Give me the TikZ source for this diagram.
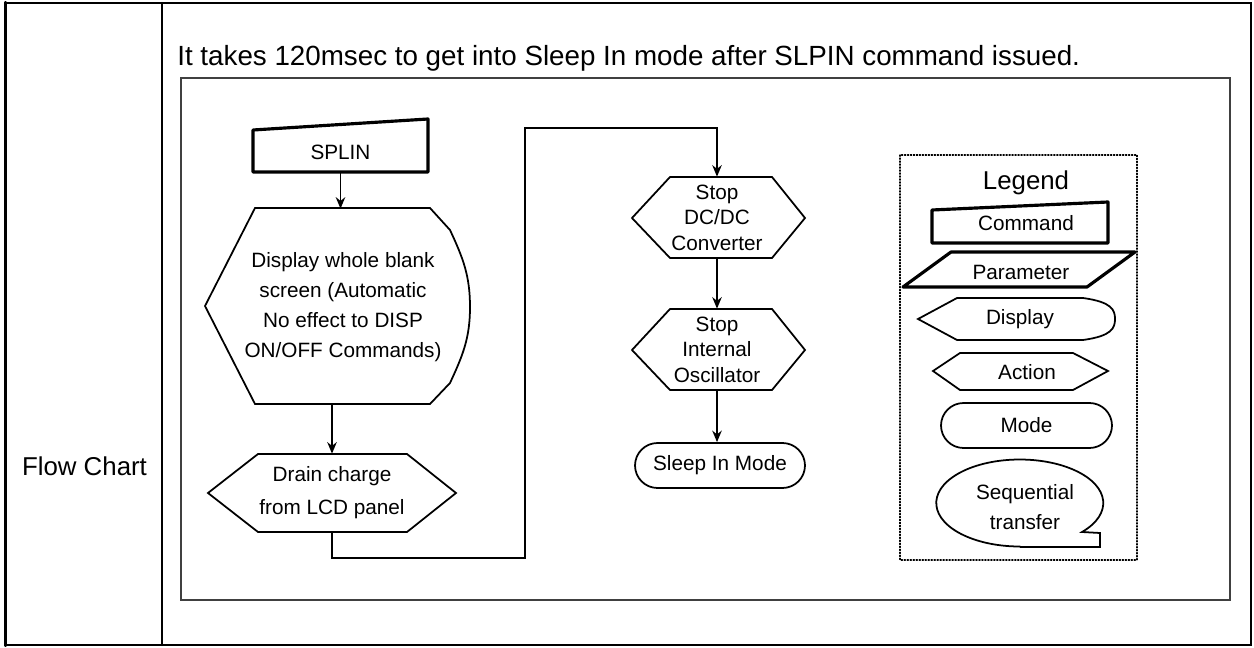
\documentclass[tikz,border=0pt]{standalone}
\usepackage{fontspec}
\setmainfont{Liberation Sans}
\usepackage{tikz}
\usetikzlibrary{arrows.meta}
\usepackage{xcolor}

\begin{document}
\begin{tikzpicture}[x=0.02cm,y=-0.02cm,>={Stealth[length=2.3mm,width=1.9mm]},line cap=round,
  txt/.style={inner sep=0pt,align=center,font=\fontsize{11.8}{17}\selectfont},
  shp/.style={line width=1pt,line join=miter},
  heavy/.style={line width=1.8pt,line join=round},
  pill/.style={draw,line width=1pt,rounded corners=0.45cm,minimum height=0.9cm,inner sep=0pt,font=\fontsize{11.8}{17}\selectfont}]
\useasboundingbox (0,0) rectangle (1254,648);
% table frame
\draw[line width=1.5pt] (5,3) rectangle (1251,645);
\draw[line width=2.2pt] (5.5,3) -- (5.5,645);
\draw[line width=1.3pt] (162,3) -- (162,645);
\node[font=\fontsize{14.7}{17}\selectfont] (rowlbl) at (84.5,466) {Flow Chart};
\node[anchor=base west,inner sep=0pt,font=\fontsize{15.8}{17}\selectfont] (title) at (177,66)
  {It takes 120msec to get into Sleep In mode after SLPIN command issued.};
\draw[line width=1.2pt,black!75] (181,78) rectangle (1230,600);

% left column
\draw[heavy] (253,130) -- (428,119) -- (428,172) -- (253,172) -- cycle;
\node[txt,minimum width=3.5cm,minimum height=0.8cm] (splin) at (340.5,152) {SPLIN};
\draw[shp] (255,208) -- (430,208) -- (450,230) to[out=-65,in=90] (470,307)
  to[out=-90,in=65] (450,383) -- (430,404) -- (255,404) -- (205,306) -- cycle;
\node[txt,font=\fontsize{11.8}{17.2}\selectfont,minimum height=3.92cm] (disp) at (343,307)
  {Display whole blank\\ screen (Automatic\\ No effect to DISP\\ON/OFF Commands)};
\draw[shp] (208,493) -- (258,454) -- (407,454) -- (456,493) -- (407,532) -- (258,532) -- cycle;
\node[txt,font=\fontsize{11.8}{18.7}\selectfont,minimum height=1.56cm] (drain) at (332,493)
  {Drain charge\\from LCD panel};
\draw[->,shp] (splin.south) -- (splin.south |- disp.north);
\draw[->,shp] (disp.south -| drain.north) -- (drain.north);

% middle column
\draw[shp] (632,218) -- (670,177) -- (772,177) -- (805,218) -- (772,258) -- (670,258) -- cycle;
\node[txt,font=\fontsize{11.8}{14.5}\selectfont,minimum height=1.62cm] (dcdc) at (717,217.5)
  {Stop\\DC/DC\\Converter};
\draw[shp] (632,350) -- (670,309) -- (772,309) -- (805,350) -- (772,390) -- (670,390) -- cycle;
\node[txt,font=\fontsize{11.8}{14.5}\selectfont,minimum height=1.62cm] (osc) at (717,349.5)
  {Stop\\ Internal\\Oscillator};
\node[pill,minimum width=3.4cm] (sleep) at (720,465.5) {Sleep In Mode};
\coordinate (turnlow) at (525,558);
\coordinate (turnhigh) at (525,128);
\draw[->,shp] (drain.south) |- (turnlow) -- (turnhigh) -| (dcdc.north);
\draw[->,shp] (dcdc.south) -- (osc.north);
\draw[->,shp] (osc.south) -- (osc.south |- sleep.north);

% legend
\draw[densely dotted,line width=0.7pt] (900,155) rectangle (1137,560);
\node[font=\fontsize{14.7}{17}\selectfont] (legtitle) at (1026,183) {Legend};
\draw[heavy] (932,210) -- (1108,202) -- (1108,243) -- (932,243) -- cycle;
\node[txt] (cmd) at (1026,223) {Command};
\draw[heavy] (951,252) -- (1135,252) -- (1087,287) -- (903,287) -- cycle;
\node[txt] (param) at (1021,272) {Parameter};
\draw[shp] (957,298) -- (1083,298) .. controls (1112,302) and (1115,310) .. (1115,319)
  .. controls (1115,328) and (1112,336) .. (1083,340) -- (957,340) -- (918,319) -- cycle;
\node[txt] (dsp) at (1020,319) {Display};
\draw[shp] (933,371) -- (960,353) -- (1073,353) -- (1108,371) -- (1073,390) -- (960,390) -- cycle;
\node[txt] (act) at (1027,372) {Action};
\node[pill,minimum width=3.42cm] (mode) at (1026.5,425.5) {Mode};
\draw[shp] (1020.5,547) -- (1100,547) -- (1100,533) -- (1082,532)
  arc[start angle=-41.8,end angle=270,x radius=83.5,y radius=-43.5] -- cycle;
\node[txt,font=\fontsize{11.8}{17}\selectfont] (seq) at (1025,507) {Sequential\\ transfer};
\end{tikzpicture}
\end{document}
